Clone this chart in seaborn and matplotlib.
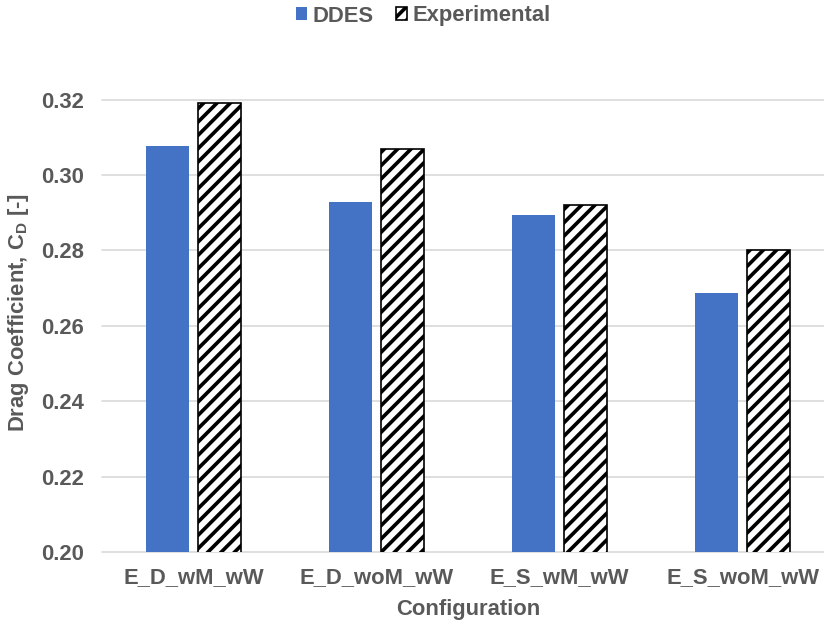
import pandas as pd
import matplotlib
matplotlib.use("Agg")
import matplotlib.pyplot as plt
import seaborn as sns

# Data
configs = ["E_D_wM_wW", "E_D_woM_wW", "E_S_wM_wW", "E_S_woM_wW"]
ddes = [0.3077, 0.2927, 0.2895, 0.2686]
experimental = [0.3190, 0.3070, 0.2921, 0.2801]
series = ["DDES", "Experimental"]

df = pd.DataFrame({
    "Configuration": configs * 2,
    "Cd": ddes + experimental,
    "Source": [series[0]] * len(configs) + [series[1]] * len(configs),
})

TEXT = "#595959"
BLUE = "#4472C4"
GRID = "#D9D9D9"
FS = 13.2

sns.set_style("white")
plt.rcParams["font.family"] = ["Liberation Sans", "DejaVu Sans"]
plt.rcParams["font.weight"] = "bold"
plt.rcParams["mathtext.fontset"] = "custom"
plt.rcParams["mathtext.bf"] = "Liberation Sans:bold"
plt.rcParams["mathtext.rm"] = "Liberation Sans:bold"
plt.rcParams["mathtext.default"] = "bf"
plt.rcParams["hatch.linewidth"] = 2.2
plt.rcParams["hatch.color"] = "black"

DPI = 120
fig = plt.figure(figsize=(824 / DPI, 626 / DPI), dpi=DPI)
ax = fig.add_axes([102 / 824, 74 / 626, 732 / 824, 452.5 / 626])

sns.barplot(
    data=df, x="Configuration", y="Cd", hue="Source",
    hue_order=series, palette=[BLUE, "white"], saturation=1,
    width=0.574, gap=0.18, ax=ax, legend=False,
)

for bar in ax.containers[0]:
    bar.set_edgecolor("none")
for bar in ax.containers[1]:
    bar.set_hatch("///")
    bar.set_edgecolor("black")
    bar.set_linewidth(1.0)

ax.set_ylim(0.20, 0.32)
ax.set_xlim(-0.5, 3.5)
ax.set_yticks([0.20, 0.22, 0.24, 0.26, 0.28, 0.30, 0.32])
ax.set_yticklabels([f"{v:.2f}" for v in ax.get_yticks()])
ax.set_axisbelow(True)
ax.yaxis.grid(True, color=GRID, linewidth=1.0)
for line in ax.get_ygridlines():
    line.set_clip_on(False)
sns.despine(ax=ax, left=True, bottom=True)

ax.tick_params(axis="y", length=0, pad=11, labelsize=FS, labelcolor=TEXT)
ax.tick_params(axis="x", length=0, pad=9, labelsize=FS, labelcolor=TEXT)

ax.set_xlabel("Configuration", fontsize=FS, color=TEXT, fontweight="bold")
ax.set_ylabel("Drag Coefficient, C$_{D}$ [-]", fontsize=FS, color=TEXT,
              fontweight="bold")
ax.xaxis.set_label_coords(366 / 732, -47 / 452.5)
ax.yaxis.set_label_coords(-71 / 732, 0.53)

handles = [ax.containers[0][0], ax.containers[1][0]]
leg = fig.legend(
    handles, series, loc="center", bbox_to_anchor=(423 / 824, 1 - 16 / 626),
    ncol=2, frameon=False, fontsize=FS, handlelength=0.5, handleheight=0.5,
    handletextpad=0.25, columnspacing=1.0,
)
for t in leg.get_texts():
    t.set_color(TEXT)

fig.savefig("out.png", dpi=DPI)
